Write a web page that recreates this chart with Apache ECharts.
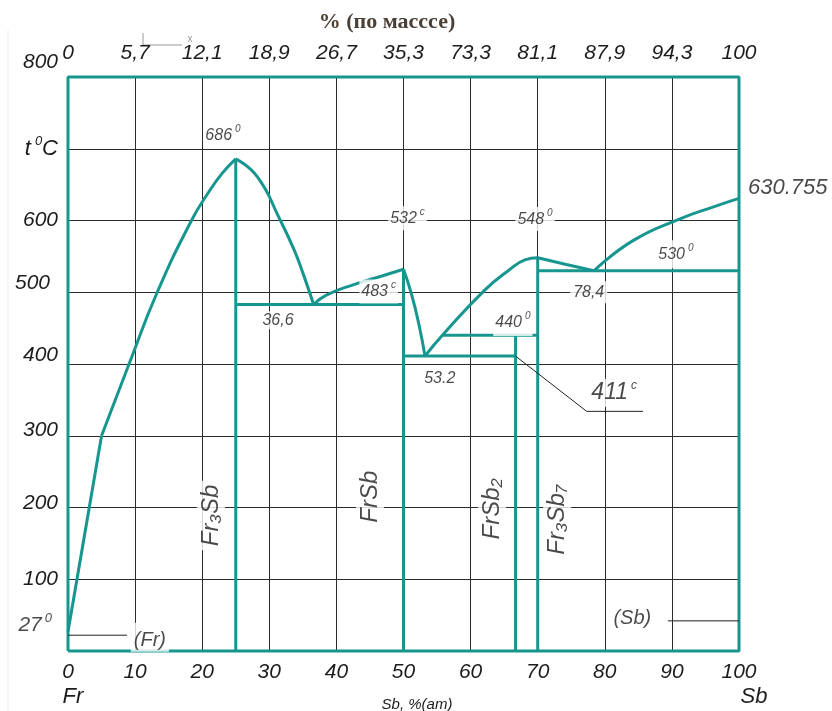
<!DOCTYPE html>
<html>
<head>
<meta charset="utf-8">
<script src="https://cdn.jsdelivr.net/npm/echarts@6/dist/echarts.min.js"></script>
<style>
  html, body { margin: 0; padding: 0; background: #fff; }
  #chart { width: 832px; height: 711px; }
</style>
</head>
<body>
<div id="chart"></div>
<script>
// Fr–Sb phase diagram: temperature vs. composition (at.% Sb, with mass.% on top)

// axis ticks
const atTicks = [0, 10, 20, 30, 40, 50, 60, 70, 80, 90, 100];
const massLabels = ['0', '5,7', '12,1', '18,9', '26,7', '35,3', '73,3', '81,1', '87,9', '94,3', '100'];
const tempTicks = [0, 100, 200, 300, 400, 500, 600, 700, 800];

// characteristic temperatures, °C
const meltFr = 27;
const meltSb = 630.755;
const meltFr3Sb = 686;
const meltFrSb = 532;
const meltFr3Sb7 = 548;
const eutecticT1 = 483;
const eutecticT2 = 411;
const peritecticT = 440;
const eutecticT3 = 530;

// compound compositions and eutectic compositions, at.% Sb
const xFr3Sb = 25;
const xFrSb = 50;
const xFrSb2 = 66.7;
const xFr3Sb7 = 70;
const eutecticX1 = 36.6;
const eutecticX2 = 53.2;
const eutecticX3 = 78.4;
const peritecticX = 55.8;

// liquidus branches [at.% Sb, °C]
const liqFr = [[0, meltFr], [5.0, 300]];
const liqFr3SbLeft = [[5.0, 300], [9.1, 400], [13.3, 500], [18.4, 600], [21.0, 640], [23.0, 666], [xFr3Sb, meltFr3Sb]];
const liqFr3SbRight = [[xFr3Sb, meltFr3Sb], [28.2, 661], [31.6, 601], [33.7, 559], [35.0, 527], [eutecticX1, eutecticT1]];
const liqFrSbLeft = [[eutecticX1, eutecticT1], [38.5, 496], [42.7, 511], [46.9, 523], [xFrSb, meltFrSb]];
const liqFrSbRight = [[xFrSb, meltFrSb], [51.2, 497], [52.3, 455], [eutecticX2, eutecticT2]];
const liqFr3Sb7Left = [[eutecticX2, eutecticT2], [peritecticX, peritecticT], [62.1, 503], [65.6, 530], [68.1, 545], [xFr3Sb7, meltFr3Sb7]];
const liqFr3Sb7Right = [[xFr3Sb7, meltFr3Sb7], [74.1, 539], [eutecticX3, eutecticT3]];
const liqSb = [[eutecticX3, eutecticT3], [84.2, 572], [91.4, 603], [96.2, 619], [100, meltSb]];

// compound verticals
const compoundNames = ['Fr₃Sb', 'FrSb', 'FrSb₂', 'Fr₃Sb₇'];
const compoundX = [xFr3Sb, xFrSb, xFrSb2, xFr3Sb7];
const compoundTop = [meltFr3Sb, meltFrSb, peritecticT, meltFr3Sb7];

// invariant horizontals
const tieFrom = [xFr3Sb, xFrSb, peritecticX, xFr3Sb7];
const tieTo = [xFrSb, xFrSb2, xFr3Sb7, 100];
const tieT = [eutecticT1, eutecticT2, peritecticT, eutecticT3];

// solid-solution pointers
const frPointer = [[0, 22], [8.8, 22]];
const sbPointer = [[89.4, 42], [100, 42]];
const leader411 = [[xFrSb2, eutecticT2], [77.3, 334], [85.7, 334]];

const teal = '#17968f';
const ink = '#1c1c1c';
const sans = 'Liberation Sans';

function lineSeries(data, opts) {
  return Object.assign({
    type: 'line', data: data, symbol: 'none', silent: true, animation: false,
    clip: false, lineStyle: { color: teal, width: 3 }, z: 3
  }, opts || {});
}

const series = [];
// plot frame
series.push(lineSeries([[0, 0], [100, 0], [100, 800], [0, 800], [0, 0]], { z: 4 }));
// liquidus
series.push(lineSeries(liqFr));
[liqFr3SbLeft, liqFr3SbRight, liqFrSbLeft, liqFrSbRight, liqFr3Sb7Left, liqFr3Sb7Right, liqSb].forEach(function (d) {
  series.push(lineSeries(d, { smooth: 0.5 }));
});
// compounds
compoundX.forEach(function (x, i) {
  series.push(lineSeries([[x, 0], [x, compoundTop[i]]]));
});
// invariant lines
tieT.forEach(function (t, i) {
  series.push(lineSeries([[tieFrom[i], t], [tieTo[i], t]]));
});
// thin pointers
[frPointer, sbPointer, leader411].forEach(function (d) {
  series.push(lineSeries(d, { lineStyle: { color: '#222', width: 1 }, z: 5 }));
});

// text notes
const baseLabel = {
  show: true, position: 'inside', fontFamily: sans, fontStyle: 'italic', fontSize: 16,
  color: ink, backgroundColor: '#fff', padding: [1, 2]
};
const supRich = {
  n: { fontFamily: sans, fontStyle: 'italic', fontSize: 16, color: ink },
  s: { fontFamily: sans, fontStyle: 'italic', fontSize: 10, color: ink, padding: [0, 0, 12, 3] }
};
function fmt(v) { return String(v).replace('.', ','); }
function note(x, y, text, extra) {
  return { value: [x, y], label: Object.assign({}, baseLabel, { formatter: text, rich: supRich }, extra || {}) };
}
const notes = [
  note(23.1, 719, '{n|' + meltFr3Sb + '}{s|0}'),
  note(50.6, 603, '{n|' + meltFrSb + '}{s|c}'),
  note(46.3, 501, '{n|' + eutecticT1 + '}{s|c}'),
  note(31.3, 461, fmt(eutecticX1)),
  note(55.4, 380, String(eutecticX2)),
  note(69.6, 602, '{n|' + meltFr3Sb7 + '}{s|0}'),
  note(66.3, 457, '{n|' + peritecticT + '}{s|0}', { padding: [1, 2, 3, 2] }),
  note(77.6, 500, fmt(eutecticX3), { padding: [3, 3] }),
  note(90.6, 553, '{n|' + eutecticT3 + '}{s|0}', { padding: [3, 3] }),
  note(81.4, 360, '{b|' + eutecticT2 + '}{s|c}', {
    rich: {
      b: { fontFamily: sans, fontStyle: 'italic', fontSize: 23, color: ink },
      s: { fontFamily: sans, fontStyle: 'italic', fontSize: 12, color: ink, padding: [0, 0, 14, 3] }
    }
  }),
  note(100, meltSb, String(meltSb), { position: 'right', distance: 7, offset: [0, -11], fontSize: 22, backgroundColor: 'transparent' }),
  note(0, meltFr, '{n|' + meltFr + '}{s|0}', {
    position: 'left', distance: 14, offset: [0, -6], backgroundColor: 'transparent',
    rich: {
      n: { fontFamily: sans, fontStyle: 'italic', fontSize: 21, color: ink },
      s: { fontFamily: sans, fontStyle: 'italic', fontSize: 13, color: ink, padding: [0, 0, 14, 3] }
    }
  }),
  note(12.2, 19, '(Fr)', { fontSize: 20, padding: [8, 3, 1, 3] }),
  note(84.1, 45, '(Sb)', { fontSize: 20, backgroundColor: 'transparent' })
];
// compound names, written vertically
const compoundLabelPos = [[21.3, 189], [45.0, 215], [63.2, 198], [72.9, 183]];
compoundNames.forEach(function (name, i) {
  notes.push(note(compoundLabelPos[i][0], compoundLabelPos[i][1], name, { rotate: 90, fontSize: 24, padding: [2, 4] }));
});

series.push({
  type: 'scatter', data: notes, symbolSize: 0, silent: true, animation: false, clip: false, z: 6
});

// y tick labels with small individual shifts
const yRich = {
  a: { fontFamily: sans, fontStyle: 'italic', fontSize: 21, color: ink },
  up15: { fontFamily: sans, fontStyle: 'italic', fontSize: 21, color: ink, padding: [0, 0, 30, 0] },
  up9: { fontFamily: sans, fontStyle: 'italic', fontSize: 21, color: ink, padding: [0, 0, 18, 0] },
  up9l: { fontFamily: sans, fontStyle: 'italic', fontSize: 21, color: ink, padding: [0, 8, 18, 0] },
  up6: { fontFamily: sans, fontStyle: 'italic', fontSize: 21, color: ink, padding: [0, 0, 12, 0] },
  up4: { fontFamily: sans, fontStyle: 'italic', fontSize: 21, color: ink, padding: [0, 0, 8, 0] },
  t: { fontFamily: sans, fontStyle: 'italic', fontSize: 22, color: ink },
  ts: { fontFamily: sans, fontStyle: 'italic', fontSize: 13, color: ink, padding: [0, 0, 14, 4] }
};
const yStyle = { 800: 'up15', 500: 'up9l', 400: 'up9', 300: 'up6', 200: 'up4' };

const chart = echarts.init(document.getElementById('chart'), null, { renderer: 'canvas' });
chart.setOption({
  animation: false,
  backgroundColor: '#fff',
  grid: { left: 68, right: 93, top: 77, bottom: 60, containLabel: false },
  xAxis: [
    {
      type: 'value', position: 'bottom', min: 0, max: 100, interval: 10,
      axisLine: { show: false }, axisTick: { show: false },
      splitLine: { show: true, lineStyle: { color: '#2b2b2b', width: 1 } },
      axisLabel: { margin: 11, fontFamily: sans, fontStyle: 'italic', fontSize: 21, color: ink }
    },
    {
      type: 'value', position: 'top', min: 0, max: 100, interval: 10,
      axisLine: { show: false }, axisTick: { show: false }, splitLine: { show: false },
      axisLabel: {
        margin: 13, fontFamily: sans, fontStyle: 'italic', fontSize: 21, color: ink,
        formatter: function (v) { const i = atTicks.indexOf(v); return i >= 0 ? massLabels[i] : ''; }
      }
    }
  ],
  yAxis: {
    type: 'value', min: 0, max: 800, interval: 100,
    axisLine: { show: false }, axisTick: { show: false },
    splitLine: { show: true, lineStyle: { color: '#2b2b2b', width: 1 } },
    axisLabel: {
      margin: 10, rich: yRich,
      formatter: function (v) {
        if (v === 0) return '';
        if (v === 700) return '{t|t}{ts|0}{t|C}';
        return '{' + (yStyle[v] || 'a') + '|' + v + '}';
      }
    }
  },
  graphic: [
    { type: 'line', shape: { x1: 8, y1: 30, x2: 8, y2: 711 }, style: { stroke: '#ececec', lineWidth: 1 }, silent: true },
    { type: 'text', x: 387, y: 22, style: { text: '% (по масссе)', font: 'bold 22px "Liberation Serif", serif', fill: '#4a3f35', textAlign: 'center', textVerticalAlign: 'middle' } },
    { type: 'polyline', shape: { points: [[143, 33], [143, 46]] }, style: { stroke: '#9a9a9a', lineWidth: 1 }, silent: true },
    { type: 'polyline', shape: { points: [[143, 45], [182, 45]] }, style: { stroke: '#9a9a9a', lineWidth: 1 }, silent: true },
    { type: 'text', x: 190, y: 39, style: { text: 'x', font: '10px "Liberation Sans", sans-serif', fill: '#9a9a9a', textAlign: 'center', textVerticalAlign: 'middle' } },
    { type: 'text', x: 73, y: 697, style: { text: 'Fr', font: 'italic 22px "Liberation Sans", sans-serif', fill: ink, textAlign: 'center', textVerticalAlign: 'middle' } },
    { type: 'text', x: 754, y: 697, style: { text: 'Sb', font: 'italic 22px "Liberation Sans", sans-serif', fill: ink, textAlign: 'center', textVerticalAlign: 'middle' } },
    { type: 'text', x: 417, y: 705, style: { text: 'Sb, %(am)', font: 'italic 15px "Liberation Sans", sans-serif', fill: ink, textAlign: 'center', textVerticalAlign: 'middle' } }
  ],
  series: series
});
</script>
</body>
</html>
